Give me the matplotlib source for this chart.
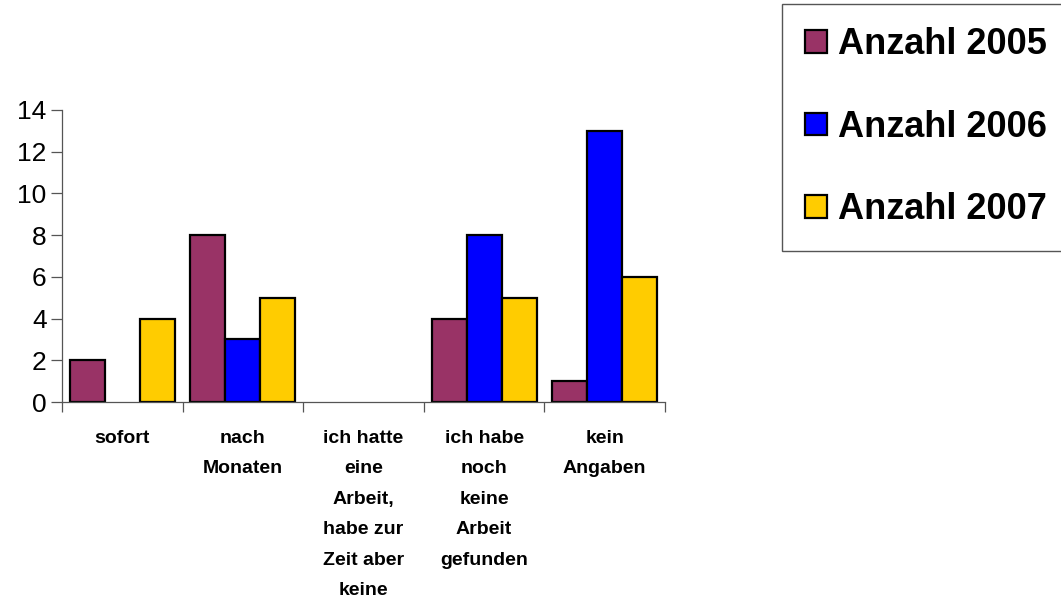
import matplotlib.pyplot as plt
import numpy as np

plt.rcParams["font.family"] = ["Liberation Sans", "DejaVu Sans"]

# data
categories = [
    "sofort",
    "nach\nMonaten",
    "ich hatte\neine\nArbeit,\nhabe zur\nZeit aber\nkeine",
    "ich habe\nnoch\nkeine\nArbeit\ngefunden",
    "kein\nAngaben",
]
series_names = ["Anzahl 2005", "Anzahl 2006", "Anzahl 2007"]
anzahl_2005 = [2, 8, 0, 4, 1]
anzahl_2006 = [0, 3, 0, 8, 13]
anzahl_2007 = [4, 5, 0, 5, 6]
colors = ["#993366", "#0000FF", "#FFCC00"]

fig = plt.figure(figsize=(10.61, 6.03), dpi=100)
ax = fig.add_axes([0.0584, 0.3333, 0.5684, 0.4843])

x = np.arange(len(categories))
width = 0.29
for i, (vals, name, col) in enumerate(
    zip([anzahl_2005, anzahl_2006, anzahl_2007], series_names, colors)
):
    # zero-height bars are not drawn in the original
    v = np.array(vals, dtype=float)
    ax.bar(
        x + (i - 1) * width,
        np.where(v > 0, v, np.nan),
        width,
        color=col,
        edgecolor="black",
        linewidth=1.6,
        label=name,
    )

ax.set_xlim(-0.5, len(categories) - 0.5)
ax.set_ylim(0, 14)
ax.set_yticks(range(0, 15, 2))
ax.tick_params(axis="y", labelsize=19, length=8, width=0.9, color="#555555", pad=3)

# tick marks at category borders, labels at the centres
ax.set_xticks(np.arange(len(categories) + 1) - 0.5)
ax.set_xticklabels([])
ax.tick_params(axis="x", which="major", direction="out", length=7, width=0.9, color="#555555")
ax.set_xticks(x, minor=True)
ax.set_xticklabels(categories, minor=True, fontsize=14, fontweight="bold", linespacing=2.04, va="top")
ax.tick_params(axis="x", which="minor", length=0, pad=20)

for s in ["top", "right"]:
    ax.spines[s].set_visible(False)
for s in ["left", "bottom"]:
    ax.spines[s].set_color("#555555")
    ax.spines[s].set_linewidth(0.9)

leg = fig.legend(
    loc="upper left",
    bbox_to_anchor=(0.737, 0.994, 0.3, 0.0),
    mode="expand",
    prop={"size": 26, "weight": "bold"},
    handlelength=0.6,
    handleheight=0.6,
    handletextpad=0.3,
    labelspacing=1.32,
    borderpad=0.65,
    borderaxespad=0,
    fancybox=False,
    framealpha=1,
    edgecolor="#555555",
)
leg.get_frame().set_linewidth(1.0)

fig.savefig("out.png", dpi=100)
